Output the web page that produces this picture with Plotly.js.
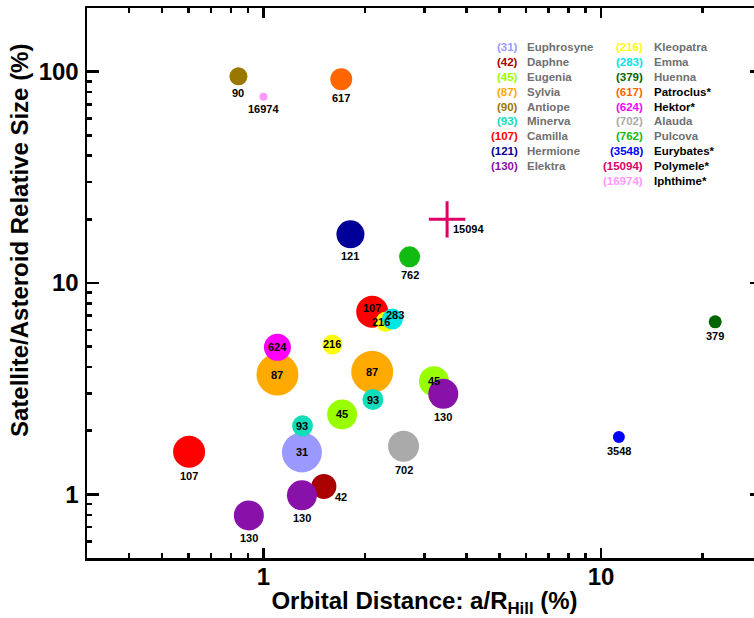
<!DOCTYPE html>
<html>
<head>
<meta charset="utf-8">
<script src="https://cdn.plot.ly/plotly-3.0.1.min.js"></script>
<style>
html, body { margin: 0; padding: 0; overflow: hidden; background: #fff; }
#chart { width: 770px; height: 618px; }
</style>
</head>
<body>
<div id="chart"></div>
<script>
// ---- Data ----
const astIds = [31, 42, 45, 87, 90, 93, 107, 121, 130, 216, 283, 379, 617, 624, 702, 762, 3548, 15094, 16974];
const astNames = ['Euphrosyne', 'Daphne', 'Eugenia', 'Sylvia', 'Antiope', 'Minerva', 'Camilla', 'Hermione', 'Elektra',
                  'Kleopatra', 'Emma', 'Huenna', 'Patroclus*', 'Hektor*', 'Alauda', 'Pulcova', 'Eurybates*', 'Polymele*', 'Iphthime*'];
const astTrojan = [false, false, false, false, false, false, false, false, false,
                   false, false, false, true, true, false, false, true, true, true];

// Satellites: host asteroid id, orbital distance a/R_Hill (%), relative size (%)
const pointIds = [31, 42, 45, 45, 87, 87, 90, 93, 93, 107, 107, 121, 130, 130, 130, 216, 216, 283, 379, 617, 624, 702, 762, 3548, 15094, 16974];
const pointX   = [1.30, 1.51, 3.20, 1.71, 1.10, 2.10, 0.843, 1.305, 2.11, 0.602, 2.10, 1.81, 3.41, 1.30, 0.905, 1.60, 2.30, 2.41, 21.8, 1.70, 1.10, 2.60, 2.71, 11.3, 3.50, 1.00];
const pointY   = [1.58, 1.09, 3.43, 2.39, 3.69, 3.80, 95, 2.11, 2.81, 1.59, 7.31, 17.0, 2.99, 0.99, 0.795, 5.12, 6.55, 6.75, 6.55, 92, 4.96, 1.69, 13.3, 1.87, 20, 76];

const xMajorTicks = [1, 10];
const xMinorTicks = [0.4, 0.5, 0.6, 0.7, 0.8, 0.9, 2, 3, 4, 5, 6, 7, 8, 9, 20];
const yMajorTicks = [1, 10, 100];
const yMinorTicks = [0.6, 0.7, 0.8, 0.9, 2, 3, 4, 5, 6, 7, 8, 9, 20, 30, 40, 50, 60, 70, 80, 90];

// ---- Styles ----
const astStyle = {
  31:    {color: '#9999FF', size: 40},
  42:    {color: '#AA0000', size: 25},
  45:    {color: '#99FF00', size: 30},
  87:    {color: '#FFAA00', size: 42},
  90:    {color: '#997700', size: 18},
  93:    {color: '#11DDBB', size: 21},
  107:   {color: '#FF0000', size: 32},
  121:   {color: '#000099', size: 28},
  130:   {color: '#8811AA', size: 30},
  216:   {color: '#FFFF00', size: 20},
  283:   {color: '#00E5E5', size: 21},
  379:   {color: '#006600', size: 13},
  617:   {color: '#FF6600', size: 22},
  624:   {color: '#FF00FF', size: 27},
  702:   {color: '#AAAAAA', size: 31},
  762:   {color: '#11BB11', size: 21},
  3548:  {color: '#0000FF', size: 12},
  15094: {color: '#DD0066', size: 26, symbol: 'cross-thin'},
  16974: {color: '#FF99FF', size: 8}
};
// label placement per point (same order as pointIds): c = centred, b = below, br = below-right, r = right
const labelPlace = ['c', 'br', 'c', 'c', 'c', 'c', 'b', 'c', 'c', 'b', 'c', 'b', 'b', 'b', 'b', 'c', 'c', 'c', 'b', 'b', 'c', 'b', 'b', 'b', 'r', 'b'];
const labelNudge = {10: [0, 4], 16: [-5, 0], 17: [3, 4]};

const FONT = 'Liberation Sans, Arial, Helvetica, sans-serif';

const sizes = pointIds.map(id => astStyle[id].size);
const colors = pointIds.map(id => astStyle[id].color);
const symbols = pointIds.map(id => astStyle[id].symbol || 'circle');
const lineW = pointIds.map(id => astStyle[id].symbol ? 3 : 0);

const trace = {
  type: 'scatter', mode: 'markers',
  x: pointX, y: pointY,
  marker: {size: sizes, color: colors, symbol: symbols, opacity: 1,
           line: {width: lineW, color: colors}},
  hoverinfo: 'x+y', showlegend: false
};

const annotations = [];
pointIds.forEach((id, i) => {
  const r = astStyle[id].size / 2;
  const place = labelPlace[i];
  let xs = 0, ys = 0, xanchor = 'center';
  if (place === 'b') { ys = -(r + 8); }
  else if (place === 'br') { xs = 17; ys = -11; }
  else if (place === 'r') { xs = 4; ys = -10; xanchor = 'left'; }
  if (labelNudge[i]) { xs += labelNudge[i][0]; ys += labelNudge[i][1]; }
  annotations.push({
    x: Math.log10(pointX[i]), y: Math.log10(pointY[i]), xref: 'x', yref: 'y',
    text: String(id), showarrow: false, xanchor: xanchor, yanchor: 'middle',
    xshift: xs, yshift: ys,
    font: {family: FONT, size: 11, color: '#000', weight: 'bold'}
  });
});

// legend block (text)
const W = 770, H = 618, mL = 87, mR = 8, mT = 8, mB = 60;
const pw = W - mL - mR, ph = H - mT - mB;
const px2x = p => (p - mL) / pw;
const py2y = p => 1 - (p - mT) / ph;
const colNumRight = [520, 644.5], colNameLeft = [524.5, 652];
const rowTop = 47.3, rowStep = 14.8, perCol = 9;
astIds.forEach((id, i) => {
  const col = i < perCol ? 0 : 1;
  const row = col === 0 ? i : i - perCol;
  const yy = py2y(rowTop + row * rowStep);
  annotations.push({
    xref: 'paper', yref: 'paper', x: px2x(colNumRight[col]), y: yy,
    xanchor: 'right', yanchor: 'middle', showarrow: false,
    text: '(' + id + ')',
    font: {family: FONT, size: 11.5, color: astStyle[id].color, weight: 'bold'}
  });
  annotations.push({
    xref: 'paper', yref: 'paper', x: px2x(colNameLeft[col]), y: yy,
    xanchor: 'left', yanchor: 'middle', showarrow: false,
    text: astNames[i],
    font: {family: FONT, size: 11.5, color: astTrojan[i] ? '#000000' : '#707070', weight: 'bold'}
  });
});

// y axis title (placed as in the reference, above the plot centre)
annotations.push({
  xref: 'paper', yref: 'paper', x: px2x(20), y: py2y(241),
  xanchor: 'center', yanchor: 'middle', textangle: -90, showarrow: false,
  text: 'Satellite/Asteroid Relative Size (%)',
  font: {family: FONT, size: 24, color: '#000', weight: 'bold'}
});

const axisCommon = {
  type: 'log', showgrid: false, zeroline: false,
  showline: true, linecolor: '#000', linewidth: 2.5, mirror: 'ticks',
  ticks: 'inside', tickcolor: '#000', tickwidth: 2.5,
  tickmode: 'array',
  tickfont: {family: FONT, size: 24, color: '#000', weight: 'bold'}
};

const layout = {
  width: W, height: H,
  margin: {l: mL, r: mR, t: mT, b: mB, pad: 0},
  paper_bgcolor: '#fff', plot_bgcolor: '#fff',
  font: {family: FONT},
  xaxis: Object.assign({}, axisCommon, {
    range: [Math.log10(0.3), Math.log10(30)],
    tickvals: xMajorTicks, ticktext: xMajorTicks.map(String), ticklen: 10,
    ticklabelstandoff: -4,
    minor: {tickmode: 'array', tickvals: xMinorTicks, ticks: 'inside', ticklen: 5, tickwidth: 2.5, tickcolor: '#000', showgrid: false},
    title: {text: 'Orbital Distance: a/R<sub>Hill</sub> (%)', font: {family: FONT, size: 24, color: '#000', weight: 'bold'}, standoff: 5}
  }),
  yaxis: Object.assign({}, axisCommon, {
    range: [Math.log10(0.5), Math.log10(200)],
    tickvals: yMajorTicks, ticktext: yMajorTicks.map(String), ticklen: 12,
    ticklabelstandoff: 1,
    minor: {tickmode: 'array', tickvals: yMinorTicks, ticks: 'inside', ticklen: 5, tickwidth: 2.5, tickcolor: '#000', showgrid: false}
  }),
  annotations: annotations
};

Plotly.newPlot('chart', [trace], layout, {displayModeBar: false, staticPlot: true});
</script>
</body>
</html>
